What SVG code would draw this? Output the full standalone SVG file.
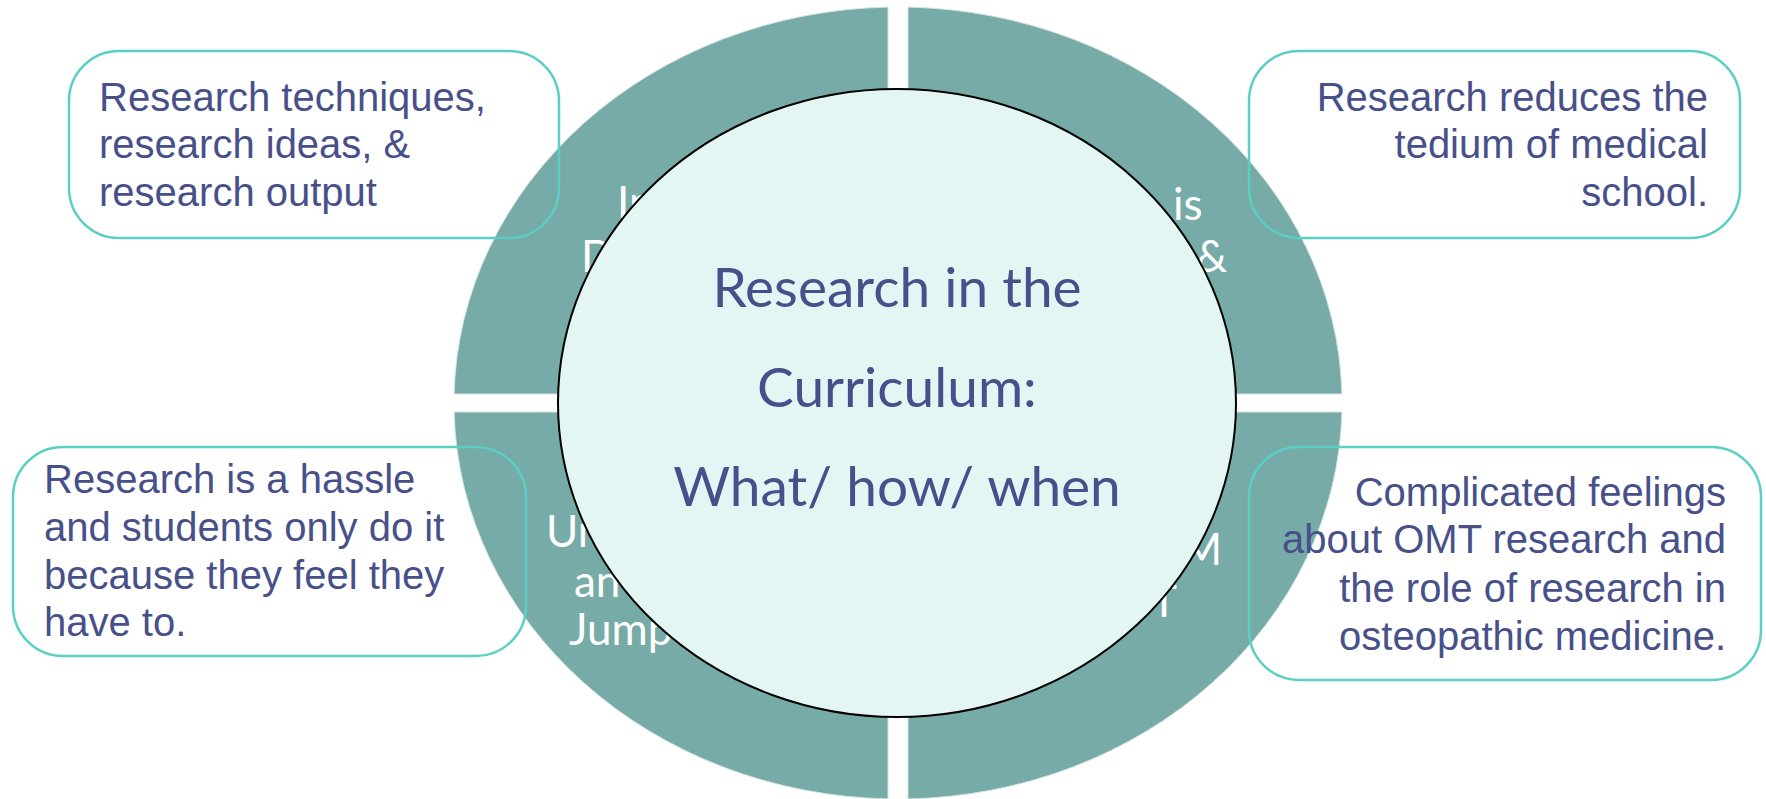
<svg xmlns="http://www.w3.org/2000/svg" width="1766" height="799" viewBox="0 0 1766 799">
<style>
.seg{fill:#77aba7;stroke:#d3e4e2;stroke-width:1}
.segtxt{font-family:Lato,"Open Sans",sans-serif;font-size:44px;fill:#ffffff}
.ctr{font-family:Lato,"Open Sans",sans-serif;font-size:55px;fill:#46508a;text-anchor:middle}
.box{fill:none;stroke:#5acfc6;stroke-width:2.5}
.btxt{font-family:"Liberation Sans",Arial,sans-serif;font-size:40px;fill:#48508a}
.r{text-anchor:end}
</style>
<rect width="1766" height="799" fill="#ffffff"/>
<g id="seg-top-left">
<path class="seg" d="M888 394 L454.1 394 A444 396 0 0 1 888 7.1 Z"/>
<text class="segtxt" x="617" y="218">In</text>
<text class="segtxt" x="581" y="272">D</text>
</g>
<g id="seg-top-right">
<path class="seg" d="M908 394 L908 7.1 A444 396 0 0 1 1341.9 394 Z"/>
<text class="segtxt" x="1173" y="220">is</text>
<text class="segtxt" x="1196" y="272">&amp;</text>
</g>
<g id="seg-bottom-right">
<path class="seg" d="M908 412 L1341.9 412 A444 396 0 0 1 908 798.9 Z"/>
<text class="segtxt r" x="1222" y="565">M</text>
<text class="segtxt r" x="1177" y="617">T</text>
</g>
<g id="seg-bottom-left">
<path class="seg" d="M888 412 L888 798.9 A444 396 0 0 1 454.1 412 Z"/>
<text class="segtxt" x="546" y="547">Un</text>
<text class="segtxt" x="574" y="597">an</text>
<text class="segtxt" x="569" y="645">Jump</text>
</g>
<g id="center">
<ellipse cx="897" cy="403" rx="339" ry="314" fill="#e4f6f4" stroke="#000000" stroke-width="2"/>
<text class="ctr" x="897" y="307">Research in the</text>
<text class="ctr" x="897" y="407">Curriculum:</text>
<text class="ctr" x="897" y="506">What/ how/ when</text>
</g>
<g id="connectors"></g>
<g id="box-top-left">
<rect class="box" x="69" y="51" width="490" height="187" rx="50"/>
<text class="btxt" x="99" y="111">Research techniques,</text>
<text class="btxt" x="99" y="158">research ideas, &amp;</text>
<text class="btxt" x="99" y="206">research output</text>
</g>
<g id="box-top-right">
<rect class="box" x="1249" y="51" width="491" height="187" rx="50"/>
<text class="btxt r" x="1708" y="111">Research reduces the</text>
<text class="btxt r" x="1708" y="158">tedium of medical</text>
<text class="btxt r" x="1708" y="206">school.</text>
</g>
<g id="box-bottom-left">
<rect class="box" x="13" y="447" width="513" height="209" rx="50"/>
<text class="btxt" x="44" y="493">Research is a hassle</text>
<text class="btxt" x="44" y="541">and students only do it</text>
<text class="btxt" x="44" y="589">because they feel they</text>
<text class="btxt" x="44" y="636">have to.</text>
</g>
<g id="box-bottom-right">
<rect class="box" x="1249" y="447" width="512" height="233" rx="50"/>
<text class="btxt r" x="1726" y="506">Complicated feelings</text>
<text class="btxt r" x="1726" y="553">about OMT research and</text>
<text class="btxt r" x="1726" y="602">the role of research in</text>
<text class="btxt r" x="1726" y="650">osteopathic medicine.</text>
</g>
</svg>
